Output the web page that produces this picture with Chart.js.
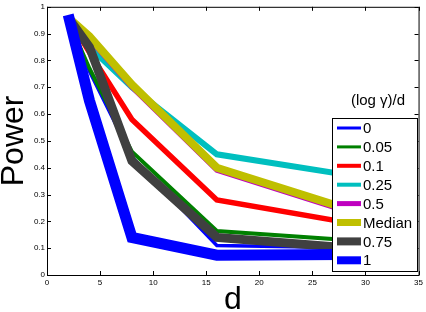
<!DOCTYPE html>
<html>
<head>
<meta charset="utf-8">
<script src="https://cdn.jsdelivr.net/npm/chart.js@4.4.0/dist/chart.umd.min.js"></script>
<style>
  html, body { margin: 0; padding: 0; background: #fff; }
</style>
</head>
<body>
<canvas id="powerChart" width="426" height="312"></canvas>
<script>
// dimensao d no eixo x
const dValues = [2, 4, 8, 16, 32];

const seriesLabels = ["0", "0.05", "0.1", "0.25", "0.5", "Median", "0.75", "1"];

const power0 = [0.96, 0.76, 0.44, 0.11, 0.10];
const power005 = [0.95, 0.77, 0.46, 0.164, 0.12];
const power01 = [0.96, 0.83, 0.58, 0.28, 0.17];
const power025 = [0.96, 0.85, 0.70, 0.45, 0.35];
const power05 = [0.96, 0.88, 0.70, 0.39, 0.19];
const powerMedian = [0.96, 0.89, 0.71, 0.40, 0.20];
const power075 = [0.96, 0.85, 0.425, 0.14, 0.09];
const power1 = [0.97, 0.65, 0.14, 0.074, 0.077];

const seriesValues = [power0, power005, power01, power025, power05, powerMedian, power075, power1];
const seriesColors = ["#0000ff", "#008000", "#ff0000", "#00bfbf", "#bf00bf", "#bfbf00", "#404040", "#0000ff"];
const seriesWidths = [3.5, 4, 5.5, 6, 5, 8, 9, 11];
const legendWidths = [3, 3, 4, 4, 5, 7, 8, 8];

const xTickLabels = ["0", "5", "10", "15", "20", "25", "30", "35"];
const yTickLabels = ["0", "0.1", "0.2", "0.3", "0.4", "0.5", "0.6", "0.7", "0.8", "0.9", "1"];

const legendTitle = "(log \u03b3)/d";

// caixa do eixo (estilo matlab) + legenda por cima das linhas
const boxPlugin = {
  id: "matlabBox",
  afterDatasetsDraw: (chart) => {
    const ctx = chart.ctx;
    const { left, right, top, bottom } = chart.chartArea;
    const xs = chart.scales.x;
    const ys = chart.scales.y;
    ctx.save();
    ctx.strokeStyle = "#000";
    ctx.lineWidth = 1;
    ctx.strokeRect(left + 0.5, top + 0.5, right - left, bottom - top);
    ctx.beginPath();
    xs.ticks.forEach((t) => {
      const px = Math.round(xs.getPixelForValue(t.value)) + 0.5;
      ctx.moveTo(px, bottom); ctx.lineTo(px, bottom - 4);
      ctx.moveTo(px, top); ctx.lineTo(px, top + 4);
    });
    ys.ticks.forEach((t) => {
      const py = Math.round(ys.getPixelForValue(t.value)) + 0.5;
      ctx.moveTo(left, py); ctx.lineTo(left + 4, py);
      ctx.moveTo(right, py); ctx.lineTo(right - 4, py);
    });
    ctx.stroke();

    // legenda
    const bx = 332, by = 118, bw = 85, bh = 153;
    ctx.fillStyle = "#fff";
    ctx.fillRect(bx, by, bw, bh);
    ctx.strokeRect(bx + 0.5, by + 0.5, bw, bh);
    ctx.fillStyle = "#000";
    ctx.font = "15px 'Liberation Sans', Arial, sans-serif";
    ctx.textAlign = "center";
    ctx.textBaseline = "middle";
    ctx.fillText(legendTitle, 378, 101);
    ctx.textAlign = "left";
    seriesLabels.forEach((lbl, i) => {
      const y = 128 + i * 18.9;
      ctx.strokeStyle = seriesColors[i];
      ctx.lineWidth = legendWidths[i];
      ctx.beginPath();
      ctx.moveTo(337, y); ctx.lineTo(361, y);
      ctx.stroke();
      ctx.fillText(lbl, 363, y + 1);
    });
    ctx.restore();
  }
};

const datasets = seriesLabels.map((lbl, i) => ({
  label: lbl,
  data: dValues.map((d, j) => ({ x: d, y: seriesValues[i][j] })),
  borderColor: seriesColors[i],
  backgroundColor: seriesColors[i],
  borderWidth: seriesWidths[i],
  pointRadius: 0,
  tension: 0,
  fill: false,
  order: seriesLabels.length - i // ultima serie fica por cima
}));

const tickFont = { family: "'Liberation Sans', Arial, sans-serif", size: 8 };

new Chart(document.getElementById("powerChart").getContext("2d"), {
  type: "line",
  data: { datasets },
  options: {
    responsive: false,
    animation: false,
    layout: { padding: { top: 4, right: 7, left: 0, bottom: 0 } },
    plugins: {
      legend: { display: false },
      tooltip: { enabled: false }
    },
    scales: {
      x: {
        type: "linear",
        min: 0,
        max: 35,
        ticks: {
          stepSize: 5,
          color: "#000",
          font: tickFont,
          padding: 3,
          maxRotation: 0,
          callback: (v, i) => xTickLabels[i]
        },
        grid: { display: false, drawTicks: false },
        border: { display: false },
        title: {
          display: true,
          text: "d",
          color: "#000",
          font: { family: "'Liberation Sans', Arial, sans-serif", size: 32, lineHeight: 0.75 },
          padding: 0
        },
        afterFit: (s) => { s.height = 37; }
      },
      y: {
        min: 0,
        max: 1,
        ticks: {
          stepSize: 0.1,
          color: "#000",
          font: tickFont,
          padding: 2,
          callback: (v, i) => yTickLabels[i]
        },
        grid: { display: false, drawTicks: false },
        border: { display: false },
        title: {
          display: true,
          text: "Power",
          color: "#000",
          font: { family: "'Liberation Sans', Arial, sans-serif", size: 32, lineHeight: 0.875 },
          padding: 0
        },
        afterFit: (s) => { s.width = 47; }
      }
    }
  },
  plugins: [boxPlugin]
});
</script>
</body>
</html>
